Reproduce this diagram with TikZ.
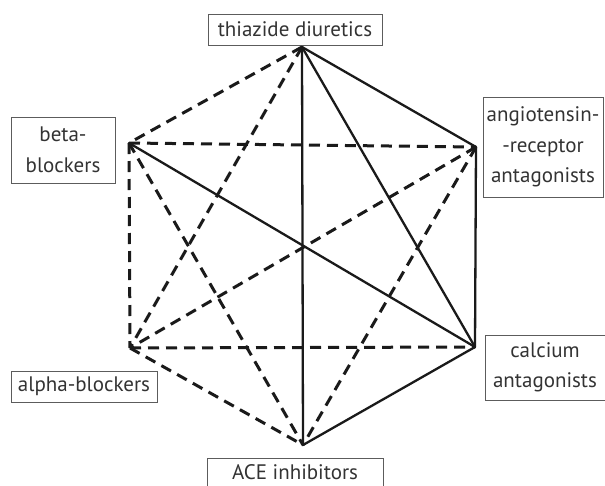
\documentclass[tikz,border=0pt]{standalone}
\usepackage{fontspec}
\setmainfont{PT Sans}
\definecolor{txt}{HTML}{333333}
\definecolor{ln}{HTML}{1A1A1A}
\begin{document}
\begin{tikzpicture}[x=1pt,y=-1pt,
  lbl/.style={draw=txt!80,line width=0.9pt,inner sep=0pt,align=center,text=txt,
    font=\fontsize{21}{30.5}\selectfont},
  solidedge/.style={draw=ln,line width=2.3pt,line cap=round},
  dashedge/.style={draw=ln,line width=3pt,dash pattern=on 11pt off 7pt}]
\useasboundingbox (0,0) rectangle (605,485);
% boxes
\node[lbl,minimum width=174pt,minimum height=31pt] (thz) at (295,29.5) {thiazide diuretics};
\node[lbl,minimum width=104pt,minimum height=66pt] (beta) at (63,150) {beta-\\blockers};
\node[lbl,minimum width=120pt,minimum height=100pt] (arb) at (543,147) {angiotensin-\\-receptor\\antagonists};
\node[lbl,minimum width=146pt,minimum height=31pt] (alpha) at (84,386.5) {alpha-blockers};
\node[lbl,minimum width=120pt,minimum height=65pt] (ca) at (545,367.5) {calcium\\antagonists};
\node[lbl,minimum width=176pt,minimum height=28pt] (ace) at (295,472) {ACE inhibitors};
% vertices
\coordinate (T) at (302,47);
\coordinate (UL) at (129,143);
\coordinate (UR) at (476,147);
\coordinate (LL) at (130,348);
\coordinate (LR) at (475,347);
\coordinate (B) at (303,445);
% dashed connectors
\draw[dashedge] (T) -- (UL);
\draw[dashedge] (T) -- (LL);
\draw[dashedge] (UL) -- (UR);
\draw[dashedge] (UL) -- (LL);
\draw[dashedge] (UL) -- (B);
\draw[dashedge] (UR) -- (LL);
\draw[dashedge] (UR) -- (B);
\draw[dashedge] (LL) -- (LR);
\draw[dashedge] (LL) -- (B);
% solid connectors
\draw[solidedge] (T) -- (UR);
\draw[solidedge] (T) -- (LR);
\draw[solidedge] (T) -- (B);
\draw[solidedge] (UL) -- (LR);
\draw[solidedge] (UR) -- (LR);
\draw[solidedge] (LR) -- (B);
\end{tikzpicture}
\end{document}
